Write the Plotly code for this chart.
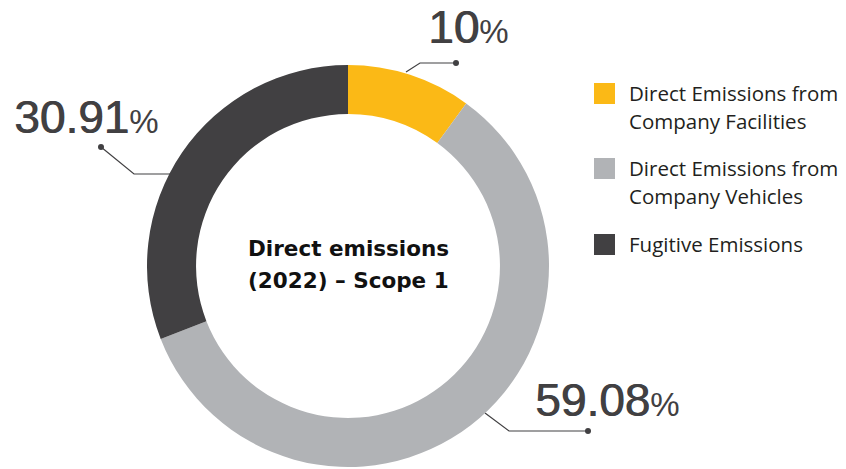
import plotly.graph_objects as go

# ---- data ----
categories = ["Direct Emissions from Company Facilities",
              "Direct Emissions from Company Vehicles",
              "Fugitive Emissions"]
legend_lines = [["Direct Emissions from", "Company Facilities"],
                ["Direct Emissions from", "Company Vehicles"],
                ["Fugitive Emissions"]]
values = [10, 59.08, 30.91]
value_labels = ["10", "59.08", "30.91"]
colors = ["#FBB916", "#B1B3B6", "#414042"]
center_title = ["Direct emissions", "(2022) – Scope 1"]

W, H = 846, 469
cx, cy, R = 348, 266, 201

fig = go.Figure()
fig.add_trace(go.Pie(
    labels=categories, values=values, sort=False, direction="clockwise",
    rotation=0, hole=0.756, textinfo="none",
    marker=dict(colors=colors, line=dict(width=0)),
    domain=dict(x=[(cx - R) / W, (cx + R) / W],
                y=[(H - cy - R) / H, (H - cy + R) / H]),
    showlegend=False,
))

# invisible pixel-space overlay axes
fig.update_layout(
    width=W, height=H, margin=dict(l=0, r=0, t=0, b=0),
    paper_bgcolor="white", plot_bgcolor="rgba(0,0,0,0)",
    xaxis=dict(range=[0, W], visible=False, fixedrange=True),
    yaxis=dict(range=[H, 0], visible=False, fixedrange=True),
    showlegend=False,
)

num_color = "#414042"
# leader lines (start on ring, elbow, dot end) and label positions (layout)
leaders = [
    [(406, 72), (420, 63), (456, 63)],
    [(485, 413), (509, 431), (588, 431)],
    [(170, 174), (134, 174), (101, 147)],
]
label_pos = [(426, 46), (533, 419), (12, 136)]  # left x, baseline y

for pts, lab, (lx, by) in zip(leaders, value_labels, label_pos):
    xs = [p[0] for p in pts]
    ys = [p[1] for p in pts]
    fig.add_trace(go.Scatter(x=xs, y=ys, mode="lines", line=dict(color=num_color, width=1.2),
                             hoverinfo="skip", showlegend=False))
    fig.add_trace(go.Scatter(x=[xs[-1]], y=[ys[-1]], mode="markers",
                             marker=dict(color=num_color, size=6), hoverinfo="skip",
                             showlegend=False))
    fig.add_annotation(x=lx, y=by - 19, xref="x", yref="y", xanchor="left", yanchor="middle",
                       text=(f"<span style='text-shadow:0.8px 0 0 {num_color}'>{lab}</span>"
                             f"<span style='font-size:33px'>%</span>"),
                       showarrow=False,
                       font=dict(family="Liberation Sans, Arial", size=46, color=num_color))

# center title
for i, line in enumerate(center_title):
    fig.add_annotation(x=cx, y=255 + 32 * i - 7, xref="x", yref="y", xanchor="center", yanchor="middle",
                       text=f"<b>{line}</b>", showarrow=False,
                       font=dict(family="DejaVu Sans", size=21.5, color="#111111"))

# legend (manual)
sq_top = [83, 158, 234]
for col, lines, top in zip(colors, legend_lines, sq_top):
    fig.add_shape(type="rect", x0=594, x1=615, y0=top, y1=top + 21, xref="x", yref="y",
                  fillcolor=col, line=dict(width=0))
    for j, ln in enumerate(lines):
        fig.add_annotation(x=627, y=top + 18 - 8 + 28 * j, xref="x", yref="y",
                           xanchor="left", yanchor="middle", text=ln, showarrow=False,
                           font=dict(family="Open Sans", size=20.5, color="#231F20"))

fig.write_html("out.html", config={"displayModeBar": False},
               post_script="document.body.style.margin='0';document.body.style.overflow='hidden';")
